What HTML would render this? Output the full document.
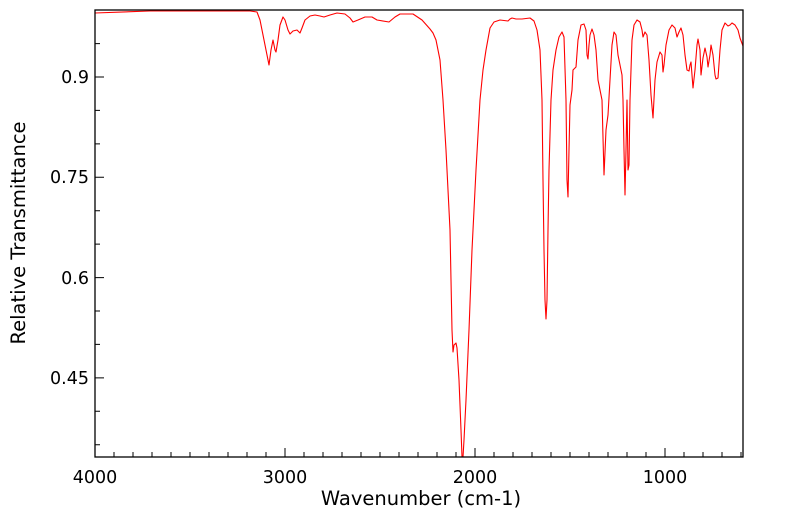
<!DOCTYPE html>
<html><head><style>body{margin:0;background:#fff}svg{display:block}</style></head><body>
<svg width="799" height="516" xmlns="http://www.w3.org/2000/svg" font-family="DejaVu Sans, Liberation Sans, sans-serif">
<rect width="799" height="516" fill="#fff"/>
<g stroke="#000" stroke-width="1">
<path d="M95,457v-9M114,457v-5M133,457v-5M152,457v-5M171,457v-5M190,457v-5M209,457v-5M228,457v-5M247,457v-5M266,457v-5M285,457v-9M304,457v-5M323,457v-5M342,457v-5M361,457v-5M380,457v-5M399,457v-5M418,457v-5M437,457v-5M456,457v-5M475,457v-9M494,457v-5M513,457v-5M532,457v-5M551,457v-5M570,457v-5M589,457v-5M608,457v-5M627,457v-5M646,457v-5M665,457v-9M684,457v-5M703,457v-5M722,457v-5M741,457v-5"/>
<path d="M95,43.6h5M95,77h9M95,110.4h5M95,143.9h5M95,177.3h9M95,210.7h5M95,244.1h5M95,277.6h9M95,311h5M95,344.4h5M95,377.9h9M95,411.3h5M95,444.7h5"/>
</g>
<polyline fill="none" stroke="#ff0000" stroke-width="1.1" stroke-linejoin="round" points="95,13 150,11 250,11 257,12 260,20 264,40 267,55 269,65 271,50 273,40 275,50 276,52 278,40 280,25 283,17 285,20 288,30 290,34 293,31 297,30 300,33 302,28 305,20 310,16 315,15 320,16 324,17 330,15 337,13 345,14 350,18 353,22 358,20 365,17 372,17 377,20 389,22 395,17 400,14 413,14 422,20 430,29 433,33 436,40 440,60 443,100 446,150 448,190 450,230 451,280 452,330 453,352 454,345 456,343 457,348 459,380 461,430 462,457 463,457 464,440 466,400 469,330 472,250 476,170 480,100 483,70 486,50 490,28 494,22 500,20 508,21 510,19 512,18 516,19 522,19 530,18 534,21 537,30 540,50 542,100 543,180 544,250 545,300 546,319 547,300 548,230 549,170 551,100 553,70 556,50 559,37 562,32 564,37 566,100 567,180 568,197 569,150 570,105 572,90 573,70 575,68 576,67 578,40 581,25 584,24 586,30 587,55 588,59 589,45 590,35 592,29 594,35 596,50 598,80 600,90 602,100 604,175 606,130 608,115 610,80 612,45 614,32 616,35 618,55 620,65 622,75 623,100 624,150 625,195 626,150 627,100 628,170 629,165 630,100 632,40 634,25 637,20 640,22 642,30 643,37 645,32 647,35 649,60 651,95 653,118 655,80 657,62 660,52 662,55 663,72 664,65 666,45 669,30 672,25 675,28 677,37 679,32 681,28 683,35 685,55 687,70 689,71 690,65 691,62 692,75 693,88 695,70 697,45 698,39 700,50 701,75 703,58 705,48 707,57 708,67 710,55 711,45 713,55 715,75 716,79 718,78 720,50 722,30 725,23 728,26 730,25 732,23 735,25 738,30 740,38 743,46"/>
<rect x="95" y="10" width="648" height="447" fill="none" stroke="#000" stroke-width="1.3"/>
<g font-size="17.5" fill="#000" text-anchor="middle">
<text x="95" y="483">4000</text><text x="285" y="483">3000</text><text x="475" y="483">2000</text><text x="665" y="483">1000</text>
</g>
<text x="421" y="505" font-size="19.5" text-anchor="middle">Wavenumber (cm-1)</text>
<g font-size="17.5" fill="#000" text-anchor="end">
<text x="89" y="83">0.9</text><text x="89" y="183">0.75</text><text x="89" y="284">0.6</text><text x="89" y="384">0.45</text>
</g>
<text transform="translate(25,233) rotate(-90)" font-size="19.5" text-anchor="middle">Relative Transmittance</text>
</svg>
</body></html>
